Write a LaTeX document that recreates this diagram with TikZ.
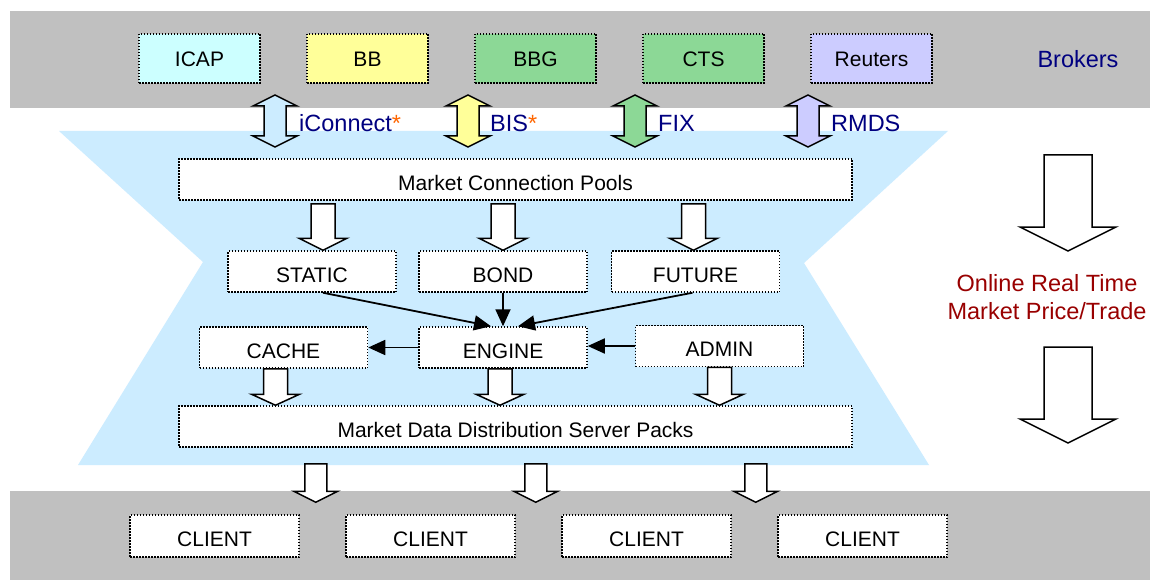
\documentclass[tikz,border=0pt]{standalone}
\usepackage{fontspec}
\setmainfont{Liberation Sans}
\usetikzlibrary{arrows.meta,calc}

\definecolor{bandgray}{RGB}{192,192,192}
\definecolor{paleblue}{RGB}{204,236,255}
\definecolor{palecyan}{RGB}{204,255,255}
\definecolor{paleyellow}{RGB}{255,255,153}
\definecolor{midgreen}{RGB}{140,216,150}
\definecolor{palelilac}{RGB}{204,204,255}
\definecolor{navytext}{RGB}{0,0,128}
\definecolor{darkredtext}{RGB}{153,0,0}
\definecolor{starorange}{RGB}{255,102,0}

\def \boxFont {\fontsize{21}{25}\selectfont}
\def \labelFont {\fontsize{23.5}{28}\selectfont}

\tikzset{
  block/.style 2 args={to path={let \p1=(\tikztostart), \p2=(\tikztotarget) in
    (\x2-#1,\y1) -- (\x2+#1,\y1) -- (\x2+#1,\y2+#2) -- (\x2+2*#1,\y2+#2) -- (\x2,\y2)
    -- (\x2-2*#1,\y2+#2) -- (\x2-#1,\y2+#2) -- cycle}},
  dblock/.style 2 args={to path={let \p1=(\tikztostart), \p2=(\tikztotarget) in
    (\x2,\y1) -- (\x2+2*#1,\y1-#2) -- (\x2+#1,\y1-#2) -- (\x2+#1,\y2+#2) -- (\x2+2*#1,\y2+#2)
    -- (\x2,\y2) -- (\x2-2*#1,\y2+#2) -- (\x2-#1,\y2+#2) -- (\x2-#1,\y1-#2) -- (\x2-2*#1,\y1-#2) -- cycle}},
  hollow/.style={draw=black, fill=white, line width=1.5pt, line join=miter},
  dotbox/.style={draw=black, fill=white, dash pattern=on 1.5pt off 1.5pt, line width=1.5pt,
    minimum height=41pt, inner sep=0pt, text height=21pt, text depth=0pt, font=\boxFont},
  broker/.style={dotbox, minimum width=121pt, minimum height=49pt, text height=17pt},
  flow/.style={line width=1.8pt, -{Triangle[length=17pt,width=15pt]}},
  tag/.style={anchor=west, inner sep=0pt, font=\labelFont, text=navytext}
}

\begin{document}
\begin{tikzpicture}[x=1pt,y=-1pt]
  \useasboundingbox (0,0) rectangle (1150,580);
  \fill[white] (0,0) rectangle (1150,580);
  \fill[bandgray] (10,11) rectangle (1150,108);
  \fill[bandgray] (10,491) rectangle (1150,580);
  \fill[paleblue] (59,131) -- (948,131) -- (804,263) -- (929,465) -- (78,465) -- (203,262) -- cycle;

  \node[broker, fill=palecyan] (icap) at (199.5,58.5) {ICAP};
  \node[broker, fill=paleyellow] (bb) at (367.5,58.5) {BB};
  \node[broker, fill=midgreen] (bbg) at (535.5,58.5) {BBG};
  \node[broker, fill=midgreen] (cts) at (703.5,58.5) {CTS};
  \node[broker, fill=palelilac] (reuters) at (871.5,58.5) {Reuters};
  \node[font=\labelFont, text=navytext] (brokers) at (1078,59) {Brokers};

  \coordinate (iconnect top) at (275,95);  \coordinate (iconnect bot) at (275,147);
  \coordinate (bis top) at (468,95);       \coordinate (bis bot) at (468,147);
  \coordinate (fix top) at (635,95);       \coordinate (fix bot) at (635,147);
  \coordinate (rmds top) at (808,95);      \coordinate (rmds bot) at (808,147);
  \draw[hollow, fill=paleblue] (iconnect top) to[dblock={11}{11}] (iconnect bot);
  \draw[hollow, fill=paleyellow] (bis top) to[dblock={11}{11}] (bis bot);
  \draw[hollow, fill=midgreen] (fix top) to[dblock={11}{11}] (fix bot);
  \draw[hollow, fill=palelilac] (rmds top) to[dblock={11}{11}] (rmds bot);
  \node[tag] (iconnect) at (299,123) {iConnect{\color{starorange}*}};
  \node[tag] (bis) at (490,123) {BIS{\color{starorange}*}};
  \node[tag] (fix) at (658,123) {FIX};
  \node[tag] (rmds) at (831,123) {RMDS};

  \node[dotbox, minimum width=673pt] (mcp) at (515.5,179.5) {Market Connection Pools};
  \node[dotbox, minimum width=168pt] (static) at (312,271.5) {STATIC};
  \node[dotbox, minimum width=168pt] (bond) at (503,271.5) {BOND};
  \node[dotbox, minimum width=168pt] (future) at (695.5,271.5) {FUTURE};
  \node[dotbox, minimum width=168pt] (cache) at (283.5,347.5) {CACHE};
  \node[dotbox, minimum width=168pt] (engine) at (503,347.5) {ENGINE};
  \node[dotbox, minimum width=168pt] (admin) at (719.5,346) {ADMIN};
  \node[dotbox, minimum width=673pt] (mddsp) at (515.5,426.5) {Market Data Distribution Server Packs};

  \draw[hollow] ([yshift=-3]mcp.south) to[block={12}{12}] ([xshift=11]static.north);
  \draw[hollow] ([yshift=-3]mcp.south) to[block={12}{12}] (bond.north);
  \draw[hollow] ([yshift=-3]mcp.south) to[block={12}{12}] ([xshift=-2]future.north);

  \draw[flow] ([xshift=11]static.south) -- ([xshift=-12]engine.north);
  \draw[flow] (bond.south) -- (engine.north);
  \draw[flow] ([xshift=-3]future.south) -- ([xshift=15]engine.north);
  \draw[flow] (engine.west) -- (cache.east);
  \draw[flow] (admin.west) -- (admin.west -| engine.east);

  \draw[hollow] (cache.south) to[block={12}{11}] ([xshift=-8]cache.south |- mddsp.north);
  \draw[hollow] (engine.south) to[block={12}{11}] ([xshift=-3]engine.south |- mddsp.north);
  \draw[hollow] (admin.south) to[block={12}{11}] (admin.south |- mddsp.north);

  \node[dotbox, minimum width=169pt, minimum height=42pt] (c1) at (214.5,536) {CLIENT};
  \node[dotbox, minimum width=169pt, minimum height=42pt] (c2) at (430.5,536) {CLIENT};
  \node[dotbox, minimum width=169pt, minimum height=42pt] (c3) at (646.5,536) {CLIENT};
  \node[dotbox, minimum width=169pt, minimum height=42pt] (c4) at (862.5,536) {CLIENT};
  \draw[hollow] ([yshift=-16]mddsp.south) to[block={11}{11}] ([xshift=16,yshift=12]c1.north east);
  \draw[hollow] ([yshift=-16]mddsp.south) to[block={11}{11}] ([xshift=20,yshift=12]c2.north east);
  \draw[hollow] ([yshift=-16]mddsp.south) to[block={11}{11}] ([xshift=24,yshift=12]c3.north east);

  \node[font=\labelFont, text=darkredtext, align=center] (online) at (1047,297) {Online Real Time\\Market Price/Trade};
  \coordinate (feed a) at (1068,155);
  \coordinate (feed b) at (1068,251);
  \coordinate (feed c) at (1068,347);
  \coordinate (feed d) at (1068,443);
  \draw[hollow] (feed a) to[block={24}{24}] (feed b);
  \draw[hollow] (feed c) to[block={24}{24}] (feed d);
\end{tikzpicture}
\end{document}
